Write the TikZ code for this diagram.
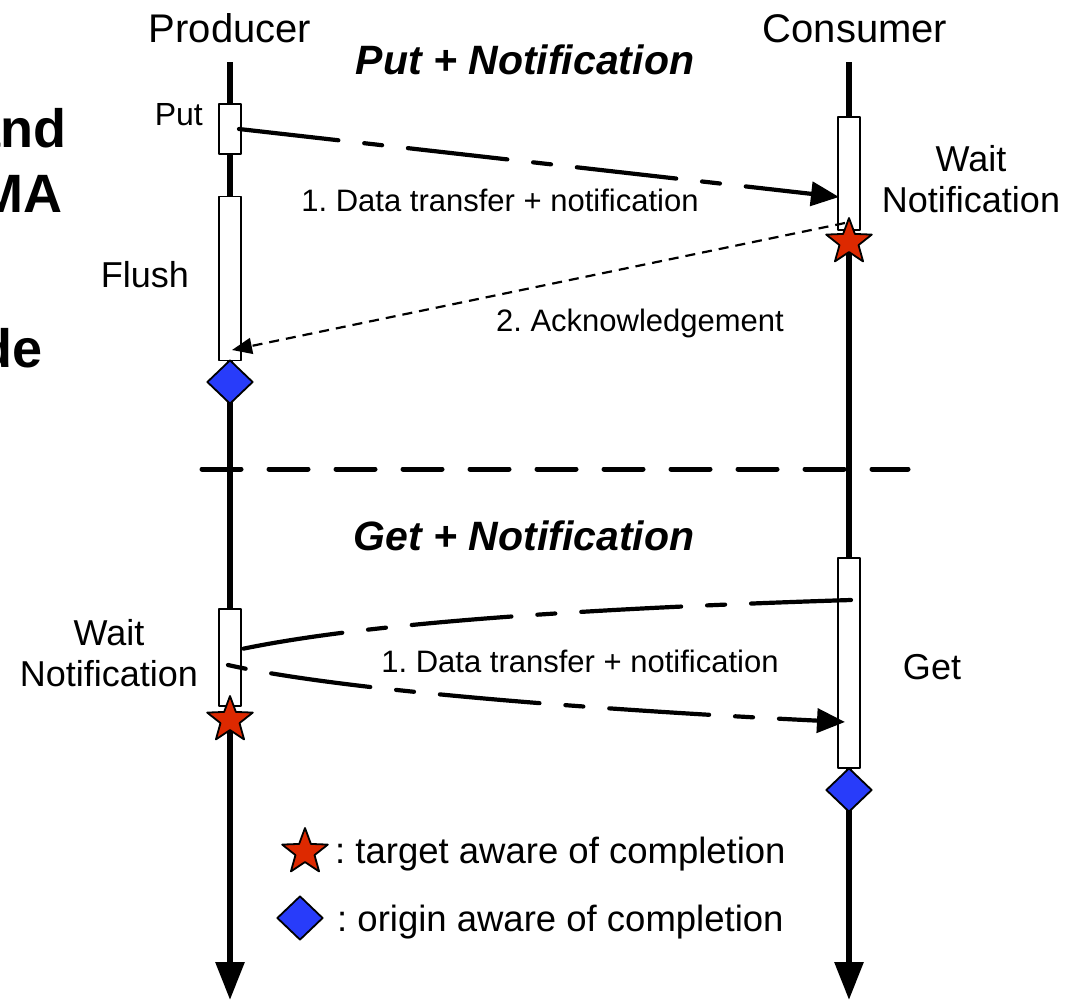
\documentclass[tikz,border=0pt]{standalone}
\usepackage{fontspec}
\setmainfont{Liberation Sans}
\usetikzlibrary{arrows.meta,calc,shapes.geometric}
\definecolor{starred}{RGB}{221,41,0}
\definecolor{diamondblue}{RGB}{40,60,250}
\newcommand{\txtsize}[1]{\fontsize{#1}{#1}\selectfont}
\frenchspacing

\begin{document}
\begin{tikzpicture}[x=1pt,y=-1pt,inner sep=0pt,line join=round,
 lifeline/.style={line width=6pt,-{Triangle[length=38pt,width=28pt]}},
 box/.style={draw,fill=white,line width=1.6pt,minimum width=22pt},
 msg/.style={line width=4.2pt,line cap=round,dash pattern=on 100pt off 26pt on 18pt off 26pt,
  -{Triangle[length=28pt,width=24pt]}},
 ack/.style={line width=2.2pt,dash pattern=on 10pt off 7pt,-{Triangle[length=20pt,width=16pt]}},
 sep/.style={line width=5pt,line cap=round,dash pattern=on 39pt off 28pt},
 starmark/.style={star,star points=5,star point ratio=2.4,minimum size=48pt,draw,line width=1.8pt,fill=starred},
 diamark/.style={diamond,minimum width=46pt,minimum height=44pt,draw,line width=1.8pt,fill=diamondblue},
 lbl/.style={font=\fontsize{36}{41}\selectfont},
 hdr/.style={font=\txtsize{41}\bfseries\itshape,anchor=base}]
\useasboundingbox (0,0) rectangle (1066,1001);
\clip (0,0) rectangle (1066,1001);
% slide text cut off at the left
\node[font=\txtsize{54}\bfseries,anchor=base east] (frag1) at (67,147) {and};
\node[font=\txtsize{54}\bfseries,anchor=base east] (frag2) at (63,212) {MA};
\node[font=\txtsize{54}\bfseries,anchor=base east] (frag3) at (43,367) {de};
% lifelines
\node[font=\txtsize{40},anchor=base] (prod) at (230,42) {Producer};
\node[font=\txtsize{40},anchor=base] (cons) at (855,42) {Consumer};
\coordinate (ptop) at (230,62); \coordinate (pbot) at (230,1000);
\coordinate (ctop) at (849,62); \coordinate (cbot) at (849,1000);
\draw[lifeline] (ptop) -- (pbot);
\draw[lifeline] (ctop) -- (cbot);
\node[hdr] (puthdr) at (525,74) {Put + Notification};
\node[hdr] (gethdr) at (524,550) {Get + Notification};
\coordinate (sepl) at (202,469); \coordinate (sepr) at (908,469);
\draw[sep] (sepl) -- (sepr);
% activation boxes
\node[box,minimum height=50pt] (putb) at (230,129) {};
\node[box,minimum height=164pt] (flushb) at (230,278.5) {};
\node[box,minimum height=113pt] (waitc) at (849,173.5) {};
\node[box,minimum height=210pt] (getb) at (849,663) {};
\node[box,minimum height=97pt] (waitp) at (230,657.5) {};
% messages
\draw[msg] ($(putb.center)+(9,0)$) -- ($(waitc.center)+(-10,23.5)$);
\draw[ack] ($(waitc.center)+(-4,49.5)$) -- ($(flushb.center)+(2,71.5)$);
\draw[msg,-] ($(getb.center)+(2,-63)$) .. controls (600,608) and (360,622) .. ($(waitp.center)+(-2,-5.5)$);
\draw[msg,dash phase=126pt] ($(waitp.center)+(-2,7.5)$) .. controls (330,688) and (560,708) .. ($(getb.center)+(-4,59)$);
% completion marks
\node[diamark] (dflush) at (230,382) {};
\node[starmark] (swaitc) at (849,242) {};
\node[starmark] (swaitp) at (230,720) {};
\node[diamark] (dget) at (849,790) {};
% labels
\node[font=\txtsize{32},anchor=base east] (putl) at (203,125) {Put};
\node[lbl,anchor=base] (flushl) at (145,287.5) {Flush};
\node[lbl,align=center] (waitcl) at (971,179) {Wait\\Notification};
\node[lbl,align=center] (waitpl) at (109,653.5) {Wait\\Notification};
\node[lbl,anchor=base] (getl) at (932,679.5) {Get};
\node[font=\txtsize{31},anchor=base] (msgl1) at (500,211) {1. Data transfer + notification};
\node[font=\txtsize{31},anchor=base] (ackl) at (640,331) {2. Acknowledgement};
\node[font=\txtsize{31},anchor=base] (msgl2) at (580,672) {1. Data transfer + notification};
% legend
\node[starmark] (lstar) at (305,852) {};
\node[diamark] (ldia) at (300,918) {};
\node[font=\txtsize{36.5},anchor=base west] (lstartxt) at (335,863) {: target aware of completion};
\node[font=\txtsize{36.5},anchor=base west] (ldiatxt) at (337,931) {: origin aware of completion};
\end{tikzpicture}
\end{document}
